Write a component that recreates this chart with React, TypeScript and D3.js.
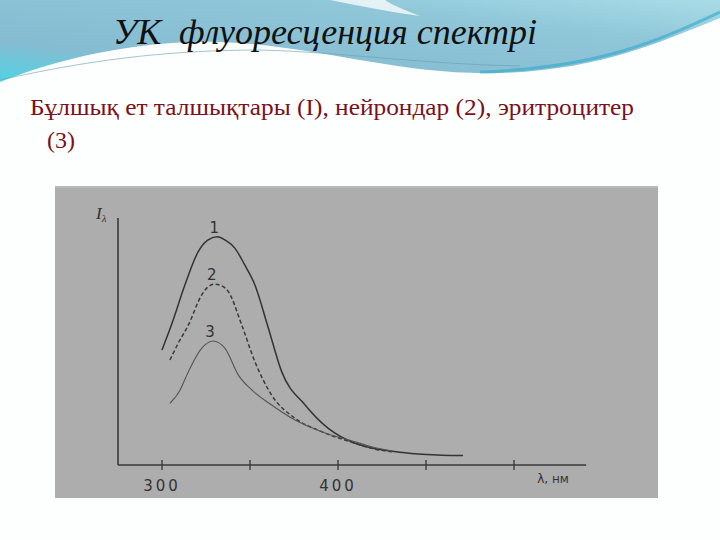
import { useEffect, useRef } from 'react';
import * as d3 from 'd3';

// wavelengths (nm) and relative intensities
const lambda1 = [300, 306, 313, 320.6, 326, 331.4, 336, 341.5, 347, 352.8, 360.4, 368, 381.3, 394.5, 409.7, 420, 435, 450, 471];
const curve1 = [46.6, 58, 72.9, 86.4, 91, 92.4, 91, 87.7, 81, 72.9, 55.5, 37.8, 24.3, 14.8, 8.8, 6.8, 5.2, 4.3, 3.8];

const lambda2 = [304.5, 309, 315, 322.5, 326, 330, 334, 337.7, 345.3, 352.8, 362.3, 375.6, 390.7, 409.7, 420, 432];
const curve2 = [42.5, 49, 56.7, 68.8, 72, 73.2, 72.5, 70.2, 56.7, 41.8, 28.3, 18.9, 13.5, 8.8, 6.6, 5.2];

const lambda3 = [304.5, 310, 315, 322.5, 329, 335.8, 343.4, 351, 362.3, 375.6, 390.7, 409.7, 420, 430];
const curve3 = [25, 30, 37.8, 47.2, 50.2, 47.2, 36.4, 30.4, 24.3, 18.2, 13.5, 9.4, 7.2, 5.8];

const curveLabels = ['1', '2', '3'];
const xTicks = [300, 350, 400, 450, 500];
const xTickLabels = [300, 400];

const title = 'УК  флуоресценция спектрі';
const subtitle = ['Бұлшық ет талшықтары (I), нейрондар (2), эритроцитер', '(3)'];

const SANS = '"DejaVu Sans"';

const App = () => {
  const svgRef = useRef<SVGSVGElement>(null);

  useEffect(() => {
    if (!svgRef.current) return;
    const svg = d3.select(svgRef.current);
    svg.selectAll('*').remove();

    const width = 720;
    const height = 540;

    svg.append('rect').attr('width', width).attr('height', height).attr('fill', '#fdfefe');

    // slide header decoration
    const defs = svg.append('defs');
    const grad = defs.append('linearGradient').attr('id', 'hdr').attr('x1', 0).attr('y1', 1).attr('x2', 1).attr('y2', 0);
    grad.append('stop').attr('offset', '0%').attr('stop-color', '#4fd3e3');
    grad.append('stop').attr('offset', '25%').attr('stop-color', '#86bcd2');
    grad.append('stop').attr('offset', '70%').attr('stop-color', '#8fc6d8');
    grad.append('stop').attr('offset', '100%').attr('stop-color', '#a8dde7');

    svg.append('path')
      .attr('d', 'M0,0 H720 V18 C660,42 600,70 500,73 C400,76 320,46 220,42 C140,40 60,58 0,82 Z')
      .attr('fill', 'url(#hdr)');
    svg.append('path')
      .attr('d', 'M330,0 C360,6 390,12 420,16 C400,8 390,4 385,0 Z')
      .attr('fill', '#ffffff').attr('opacity', 0.75);
    svg.append('path')
      .attr('d', 'M0,80 C80,62 160,50 260,50 C340,52 420,64 520,66')
      .attr('fill', 'none').attr('stroke', '#6b9fb0').attr('stroke-width', 1).attr('opacity', 0.6);
    svg.append('path')
      .attr('d', 'M480,72 C600,68 660,40 720,12')
      .attr('fill', 'none').attr('stroke', '#2fa9c9').attr('stroke-width', 3).attr('opacity', 0.6);

    // serif texts inherit the svg's font family
    svg.append('text')
      .attr('x', 113).attr('y', 44)
      .attr('font-style', 'italic')
      .attr('font-size', 35)
      .attr('textLength', 424)
      .attr('lengthAdjust', 'spacingAndGlyphs')
      .style('white-space', 'pre')
      .attr('fill', '#111')
      .text(title);

    subtitle.forEach((s, i) => {
      const st = svg.append('text')
        .attr('x', i === 0 ? 30 : 47).attr('y', 115 + i * 33)
        .attr('font-size', 24)
        .attr('fill', '#7a1020')
        .text(s);
      if (i === 0) st.attr('textLength', 604).attr('lengthAdjust', 'spacingAndGlyphs');
    });

    // grey picture area
    svg.append('rect').attr('x', 55).attr('y', 186).attr('width', 603).attr('height', 312).attr('fill', '#adadad');
    svg.append('line').attr('x1', 55).attr('x2', 658).attr('y1', 187).attr('y2', 187).attr('stroke', '#c4c4c4');

    const x = d3.scaleLinear().domain([300, 400]).range([162, 338]);
    const y = d3.scaleLinear().domain([0, 100]).range([465, 218]);
    const ink = '#3a3a3a';

    // axes
    svg.append('line')
      .attr('x1', x(275)).attr('x2', x(541)).attr('y1', y(0)).attr('y2', y(0))
      .attr('stroke', ink).attr('stroke-width', 1.4);
    svg.append('line')
      .attr('x1', x(275)).attr('x2', x(275)).attr('y1', y(0)).attr('y2', y(100))
      .attr('stroke', ink).attr('stroke-width', 1.6);

    svg.append('g').selectAll('line').data(xTicks).enter().append('line')
      .attr('x1', d => x(d)).attr('x2', d => x(d))
      .attr('y1', y(0) - 5).attr('y2', y(0) + 5)
      .attr('stroke', ink).attr('stroke-width', 1.4);

    svg.append('g').selectAll('text').data(xTickLabels).enter().append('text')
      .attr('x', d => x(d)).attr('y', 491)
      .attr('text-anchor', 'middle')
      .style('font-family', SANS)
      .attr('font-size', 15)
      .style('letter-spacing', '3px')
      .attr('fill', '#333')
      .text(d => d);

    svg.append('text')
      .attr('x', 553).attr('y', 483)
      .attr('text-anchor', 'middle')
      .style('font-family', SANS)
      .attr('font-size', 12)
      .attr('fill', '#333')
      .text('λ, нм');

    const yl = svg.append('text')
      .attr('x', 96).attr('y', 219)
      .attr('font-style', 'italic')
      .attr('font-size', 17)
      .attr('fill', '#333');
    yl.append('tspan').text('I');
    yl.append('tspan').attr('dy', 3).attr('font-size', 11).text('λ');

    // curves
    const series = [
      { xs: lambda1, ys: curve1, dash: null, w: 1.5, color: '#333' },
      { xs: lambda2, ys: curve2, dash: '4,2.5', w: 1.5, color: '#3a3a3a' },
      { xs: lambda3, ys: curve3, dash: null, w: 1.1, color: '#555' },
    ];

    const line = d3.line<[number, number]>()
      .x(d => x(d[0]))
      .y(d => y(d[1]))
      .curve(d3.curveMonotoneX);

    series.forEach((s, i) => {
      const pts: [number, number][] = s.xs.map((l, j) => [l, s.ys[j]]);
      svg.append('path')
        .attr('d', line(pts))
        .attr('fill', 'none')
        .attr('stroke', s.color)
        .attr('stroke-width', s.w)
        .attr('stroke-dasharray', s.dash);
      const peak = d3.maxIndex(s.ys);
      svg.append('text')
        .attr('x', x(s.xs[peak]) - 3)
        .attr('y', y(s.ys[peak]) - 4)
        .attr('text-anchor', 'middle')
        .style('font-family', SANS)
        .attr('font-size', 15)
        .attr('fill', '#333')
        .text(curveLabels[i]);
    });
  }, []);

  return (
    <svg ref={svgRef} width={720} height={540} viewBox="0 0 720 540"
      style={{ position: 'absolute', left: 0, top: 0, display: 'block', fontFamily: '"Liberation Serif", serif' }} />
  );
};

export default App;
